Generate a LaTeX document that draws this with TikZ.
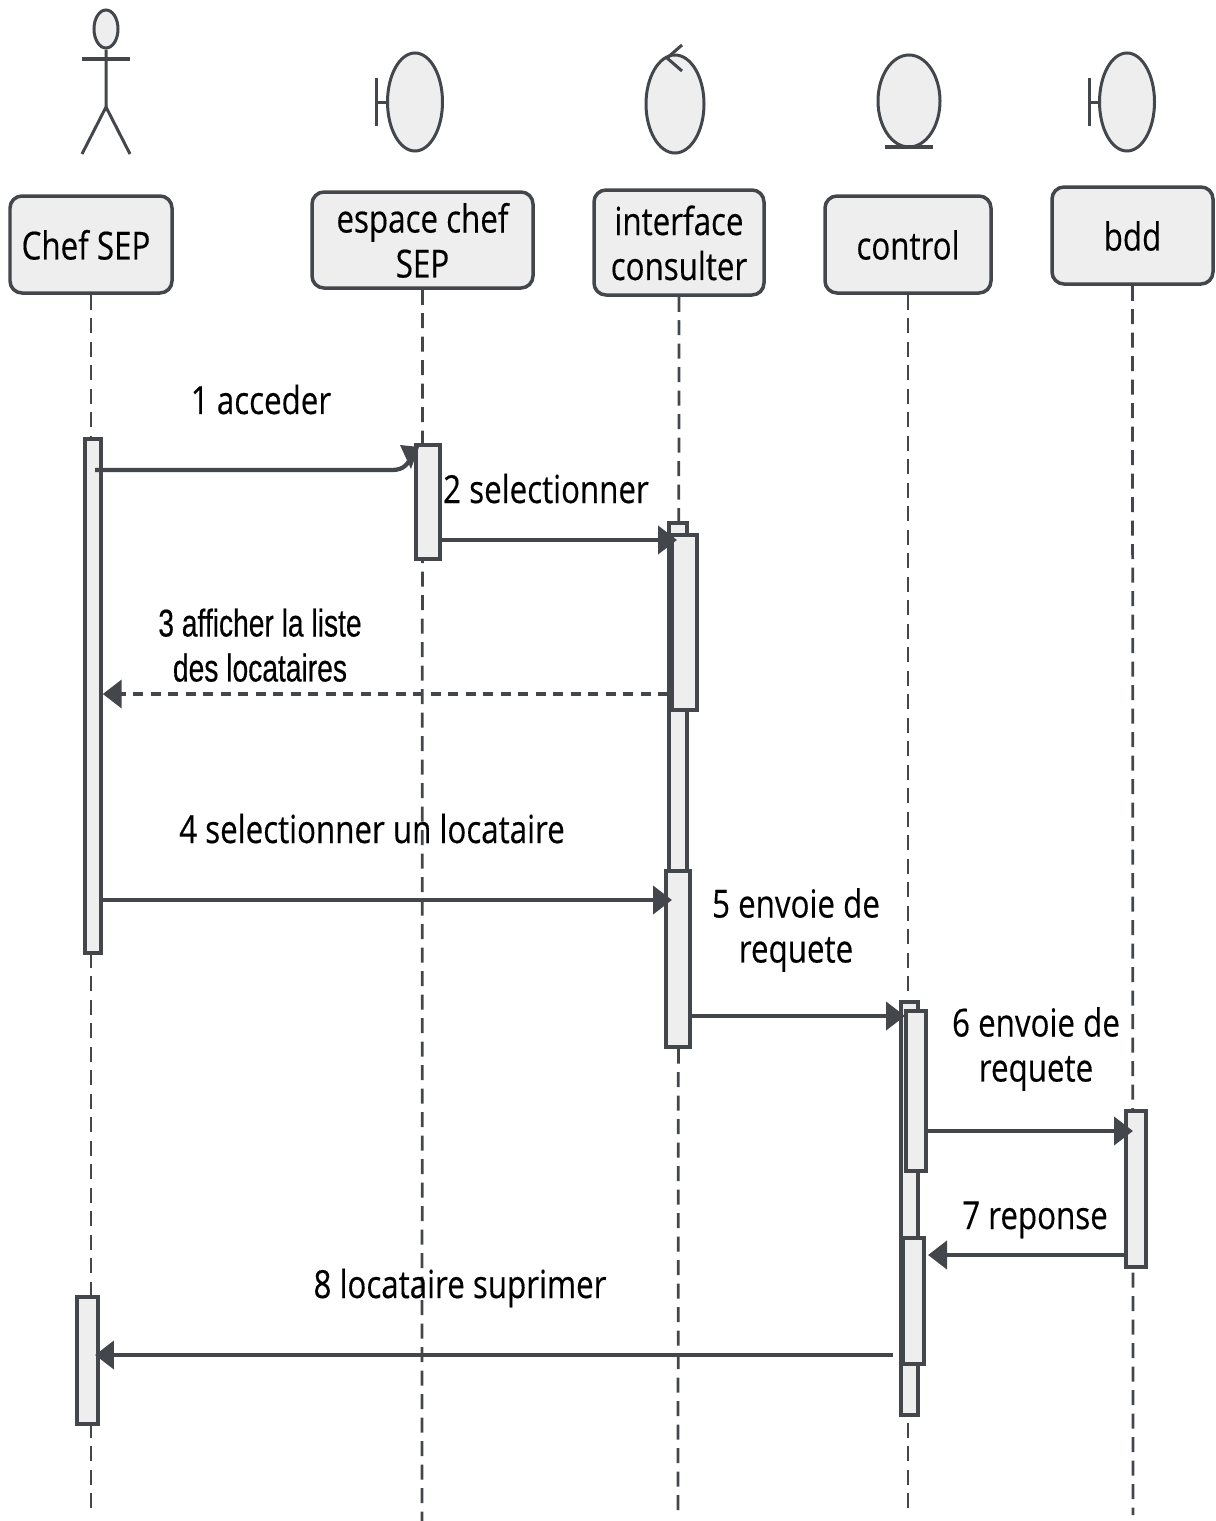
\documentclass[tikz,border=0pt]{standalone}
\usepackage{fontspec}
\setmainfont[FakeBold=.4]{Open Sans}
\newfontfamily\arialfont[FakeBold=.4]{Liberation Sans}
\usetikzlibrary{arrows.meta,shapes.geometric}
\definecolor{umlline}{HTML}{43474B}
\definecolor{umlfill}{HTML}{EEEEEE}
\newcommand{\squeeze}[2][.81]{\scalebox{#1}[1]{\raisebox{0pt}[\height][\dimexpr\depth-.24cm\relax]{\begin{tabular}{@{}c@{}}#2\end{tabular}}}}
\tikzset{
    sized/.style 2 args={minimum width=#1*.02cm, minimum height=#2*.02cm},
    headbox/.style={draw=umlline, fill=umlfill, line width=.07cm, rounded corners=.24cm, inner sep=0pt, text=black},
    activation/.style={draw=umlline, fill=umlfill, line width=.07cm, inner sep=0pt},
    iconball/.style={ellipse, draw=umlline, fill=umlfill, line width=.06cm, inner sep=0pt},
    iconline/.style={draw=umlline, line width=.06cm},
    lifeline/.style={draw=umlline, line width=.055cm, dash pattern=on .3cm off .17cm},
    msg/.style={draw=umlline, line width=.085cm, -{Triangle[length=.38cm,width=.56cm]}},
    msgdash/.style={msg, dash pattern=on .2cm off .15cm},
    msglabel/.style={inner sep=0pt, text=black},
}
\begin{document}
\begin{tikzpicture}[x=.02cm, y=-.02cm, font=\fontsize{22}{25.6}\selectfont]
    \useasboundingbox (0,0) rectangle (1215,1521);

    % actor
    \node[iconball, sized={24}{38}] (chefhead) at (106,29) {};
    \coordinate (chefhip) at (106,107);
    \coordinate (chefarml) at (82,59);
    \coordinate (chefarmr) at (130,59);
    \coordinate (chefleg1) at (82,154);
    \coordinate (chefleg2) at (130,154);
    \draw[iconline] (chefhead) -- (chefhip) -- (chefleg1);
    \draw[iconline] (chefhip) -- (chefleg2);
    \draw[iconline, line width=.09cm] (chefarml) -- (chefarmr);

    % boundary
    \node[iconball, sized={55}{98}] (espaceicon) at (415,102) {};
    \coordinate (espacestem) at (376,102);
    \coordinate (espacebar1) at (376,78);
    \coordinate (espacebar2) at (376,126);
    \draw[iconline] (espaceicon.west) -- (espacestem);
    \draw[iconline] (espacebar1) -- (espacebar2);

    % control
    \node[iconball, sized={58}{98}] (interfaceicon) at (675,104) {};
    \coordinate (interfacetip) at (667,58);
    \coordinate (interfacearm1) at (682,45);
    \coordinate (interfacearm2) at (682,71);
    \draw[iconline] (interfacearm1) -- (interfacetip) -- (interfacearm2);

    % entity
    \node[iconball, sized={62}{92}] (controlicon) at (909,101) {};
    \coordinate (controlbar1) at (885,147);
    \coordinate (controlbar2) at (933,147);
    \draw[iconline, line width=.08cm] (controlbar1) -- (controlbar2);

    % boundary
    \node[iconball, sized={55}{98}] (bddicon) at (1127,102) {};
    \coordinate (bddstem) at (1089,102);
    \coordinate (bddbar1) at (1089,78);
    \coordinate (bddbar2) at (1089,126);
    \draw[iconline] (bddicon.west) -- (bddstem);
    \draw[iconline] (bddbar1) -- (bddbar2);

    % heads
    \node[headbox, sized={162}{97}] (chef) at (91,244.5) {\squeeze{Chef SEP}\hspace*{.2cm}};
    \node[headbox, sized={221}{96}] (espace) at (422.5,240) {\squeeze{espace chef\\SEP}};
    \node[headbox, sized={170}{105}] (interface) at (679,242.5) {\squeeze{interface\\consulter}};
    \node[headbox, sized={166}{97}] (control) at (908,244.5) {\squeeze{control}};
    \node[headbox, sized={161}{97}] (bdd) at (1132.5,235.5) {\squeeze{bdd}};

    % lifelines
    \coordinate (chefend) at (91,1508);
    \coordinate (espaceend) at (422,1521);
    \coordinate (interfaceend) at (678,1510);
    \coordinate (controlend) at (908,1508);
    \coordinate (bddend) at (1133,1515);
    \draw[lifeline] (chef.south) -- (chefend);
    \draw[lifeline] (espace.south) -- (espaceend);
    \draw[lifeline] (interface.south) -- (interfaceend);
    \draw[lifeline] (control.south) -- (controlend);
    \draw[lifeline] (bdd.south) -- (bddend);

    % activations
    \node[activation, sized={16}{514}] (chefbar) at (93,696) {};
    \node[activation, sized={21}{127}] (chefbarb) at (87.5,1360.5) {};
    \node[activation, sized={24}{114}] (espacebar) at (428,502) {};
    \node[activation, sized={18}{522}] (interfacebar) at (678,784) {};
    \node[activation, sized={25}{175}] (interfacebarb) at (684.5,622.5) {};
    \node[activation, sized={24}{176}] (interfacebarc) at (678,959) {};
    \node[activation, sized={17}{413}] (controlbar) at (909.5,1208.5) {};
    \node[activation, sized={20}{160}] (controlbarb) at (916,1091) {};
    \node[activation, sized={21}{126}] (controlbarc) at (913.5,1301) {};
    \node[activation, sized={20}{156}] (bddbar) at (1136,1189) {};

    % messages
    \coordinate (m1start) at (95,470);
    \coordinate (m1end) at (413,452);
    \coordinate (m1head1) at (400,445);
    \coordinate (m1head2) at (419,447);
    \coordinate (m1head3) at (411,469);
    \draw[draw=umlline, line width=.085cm] (m1start) -- (392,470) .. controls (404,470) and (409,464) .. (m1end);
    \fill[umlline] (m1head1) -- (m1head2) -- (m1head3) -- cycle;
    \node[msglabel] (m1) at (261,399) {\squeeze{1 acceder}};

    \coordinate (m2end) at (677,540);
    \draw[msg] (espacebar.east |- m2end) -- (m2end);
    \node[msglabel] (m2) at (546,488) {\squeeze{2 selectionner}};

    \coordinate (m3start) at (668,694);
    \draw[msgdash] (m3start) -- (chefbar.east |- m3start);
    \node[msglabel, font=\arialfont\fontsize{22}{25.6}\selectfont] (m3) at (260,644) {\squeeze[.73]{3 afficher la liste\\des locataires}};

    \coordinate (m4end) at (672,900);
    \draw[msg] (chefbar.east |- m4end) -- (m4end);
    \node[msglabel] (m4) at (372,828) {\squeeze{4 selectionner un locataire}};

    \coordinate (m5end) at (905,1016);
    \draw[msg] (interfacebarc.east |- m5end) -- (m5end);
    \node[msglabel] (m5) at (796,925) {\squeeze{5 envoie de\\requete}};

    \coordinate (m6end) at (1133,1131);
    \draw[msg] (controlbarb.east |- m6end) -- (m6end);
    \node[msglabel] (m6) at (1036,1044) {\squeeze{6 envoie de\\requete}};

    \coordinate (m7end) at (928,1255);
    \draw[msg] (bddbar.west |- m7end) -- (m7end);
    \node[msglabel] (m7) at (1035,1214) {\squeeze{7 reponse}};

    \coordinate (m8start) at (893,1355);
    \coordinate (m8end) at (95,1355);
    \draw[msg] (m8start) -- (m8end);
    \node[msglabel] (m8) at (460,1283) {\squeeze{8 locataire suprimer}};
\end{tikzpicture}
\end{document}
